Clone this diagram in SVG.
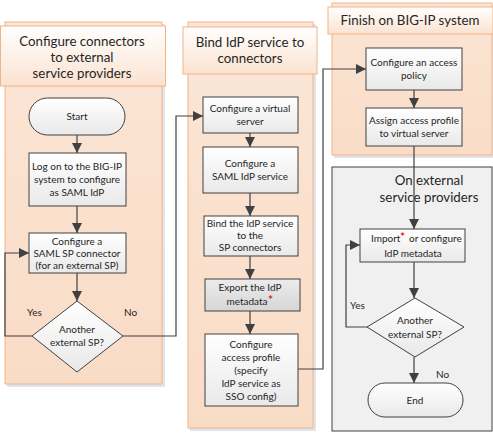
<svg xmlns="http://www.w3.org/2000/svg" width="493" height="434" viewBox="0 0 493 434">
<defs>
<linearGradient id="gBox" x1="0" y1="0" x2="0" y2="1"><stop offset="0" stop-color="#ffffff"/><stop offset="1" stop-color="#e9e9e9"/></linearGradient>
<linearGradient id="gDark" x1="0" y1="0" x2="0" y2="1"><stop offset="0" stop-color="#ececec"/><stop offset="1" stop-color="#d6d6d6"/></linearGradient>
<linearGradient id="gTitle" x1="0" y1="0" x2="0" y2="1"><stop offset="0" stop-color="#ffffff"/><stop offset="1" stop-color="#fbe2cf"/></linearGradient>
<linearGradient id="gPanel" x1="0" y1="0" x2="0" y2="1"><stop offset="0" stop-color="#fbe6d6"/><stop offset="1" stop-color="#f9dcc6"/></linearGradient>
<marker id="arr" viewBox="0 0 10 10" refX="10" refY="5" markerWidth="10" markerHeight="10" markerUnits="userSpaceOnUse" orient="auto"><path d="M0,0 L10,5 L0,10 Z" fill="#404040"/></marker>
</defs>
<style>
.panel{fill:url(#gPanel);stroke:#f0b48a;stroke-width:1}
.shadow{fill:#e1e4e8}
.title{fill:url(#gTitle);stroke:#f0b48a;stroke-width:1}
.box{fill:url(#gBox);stroke:#404040;stroke-width:1}
.dark{fill:url(#gDark);stroke:#404040;stroke-width:1}
.gpanel{fill:#f0f0f0;stroke:#404040;stroke-width:1}
.t{font-family:Lato,"Liberation Sans",sans-serif;font-size:10px;fill:#262626;text-anchor:middle}
.h{font-family:Lato,"Liberation Sans",sans-serif;font-size:13.3px;fill:#262626;text-anchor:middle}
.lbl{font-family:Lato,"Liberation Sans",sans-serif;font-size:10px;fill:#262626}
.star{fill:#e02020}
.c{fill:none;stroke:#404040;stroke-width:1.2}
</style>

<g id="panel-left">
<rect class="shadow" x="7" y="24" width="158" height="363"/>
<rect class="panel" x="5" y="22" width="157" height="362"/>
<rect class="title" x="0.5" y="26" width="165" height="60"/>
<text class="h" x="82" y="46">Configure connectors</text>
<text class="h" x="82" y="62">to external</text>
<text class="h" x="82" y="78">service providers</text>
</g>
<g id="panel-middle">
<rect class="shadow" x="190" y="24" width="126" height="407"/>
<rect class="panel" x="188" y="22" width="125" height="406"/>
<rect class="title" x="183" y="27" width="134" height="47"/>
<text class="h" x="250" y="47">Bind IdP service to</text>
<text class="h" x="250" y="63">connectors</text>
</g>
<g id="panel-right">
<rect class="shadow" x="334" y="5" width="160" height="153"/>
<rect class="panel" x="332" y="3" width="160" height="152"/>
<rect class="title" x="328" y="7" width="165" height="27"/>
<text class="h" x="410" y="25">Finish on BIG-IP system</text>
</g>
<g id="panel-external">
<rect class="gpanel" x="332" y="167" width="160" height="264"/>
<text class="h" x="429" y="185">On external</text>
<text class="h" x="429" y="202">service providers</text>
</g>

<g id="connectors">
<line class="c" x1="77" y1="135" x2="77" y2="153" marker-end="url(#arr)"/>
<line class="c" x1="77" y1="206" x2="77" y2="233" marker-end="url(#arr)"/>
<line class="c" x1="77" y1="273" x2="77" y2="301" marker-end="url(#arr)"/>
<polyline class="c" points="32,336 5,336 5,253 29,253" marker-end="url(#arr)"/>
<polyline class="c" points="123,336 176,336 176,116 203,116" marker-end="url(#arr)"/>
<line class="c" x1="250" y1="133" x2="250" y2="147" marker-end="url(#arr)"/>
<line class="c" x1="250" y1="193" x2="250" y2="216" marker-end="url(#arr)"/>
<line class="c" x1="250" y1="256" x2="250" y2="279" marker-end="url(#arr)"/>
<line class="c" x1="250" y1="311" x2="250" y2="334" marker-end="url(#arr)"/>
<polyline class="c" points="298,369 323,369 323,69 366,69" marker-end="url(#arr)"/>
<line class="c" x1="414" y1="90" x2="414" y2="108" marker-end="url(#arr)"/>
<line class="c" x1="414" y1="146" x2="414" y2="229" marker-end="url(#arr)"/>
<line class="c" x1="414" y1="262" x2="414" y2="298" marker-end="url(#arr)"/>
<polyline class="c" points="367,327 346,327 346,245 360,245" marker-end="url(#arr)"/>
<line class="c" x1="414" y1="357" x2="414" y2="383" marker-end="url(#arr)"/>
<text class="lbl" x="27" y="316">Yes</text>
<text class="lbl" x="124" y="316">No</text>
<text class="lbl" x="350" y="309">Yes</text>
<text class="lbl" x="436" y="378">No</text>
</g>

<g id="start">
<rect class="box" x="29" y="98" width="96" height="37" rx="18.5"/>
<text class="t" x="77" y="120">Start</text>
</g>
<g id="logon">
<rect class="box" x="29" y="153" width="97" height="53"/>
<text class="t" x="77" y="170">Log on to the BIG-IP</text>
<text class="t" x="77" y="183">system to configure</text>
<text class="t" x="77" y="196">as SAML IdP</text>
</g>
<g id="sp-connector">
<rect class="box" x="29" y="233" width="97" height="40"/>
<text class="t" x="77" y="245">Configure a</text>
<text class="t" x="77" y="257">SAML SP connector</text>
<text class="t" x="77" y="269">(for an external SP)</text>
</g>
<g id="decision-left">
<polygon class="box" points="77,301 123,336 77,372 32,336"/>
<text class="t" x="77" y="333">Another</text>
<text class="t" x="77" y="346">external  SP?</text>
</g>

<g id="virtual-server">
<rect class="box" x="203" y="97" width="95" height="36"/>
<text class="t" x="250" y="112">Configure a virtual</text>
<text class="t" x="250" y="125">server</text>
</g>
<g id="idp-service">
<rect class="box" x="203" y="147" width="95" height="46"/>
<text class="t" x="250" y="167">Configure a</text>
<text class="t" x="250" y="180">SAML IdP service</text>
</g>
<g id="bind">
<rect class="box" x="204" y="216" width="94" height="40"/>
<text class="t" x="250" y="227">Bind the IdP service</text>
<text class="t" x="250" y="239">to the</text>
<text class="t" x="250" y="251">SP  connectors</text>
</g>
<g id="export">
<rect class="dark" x="205" y="279" width="95" height="32"/>
<text class="t" x="250" y="291">Export the IdP</text>
<text class="t" x="247" y="305">metadata</text>
<text class="star" x="268" y="304" font-family="Lato,sans-serif" font-size="12" font-weight="bold">*</text>
</g>
<g id="access-profile">
<rect class="box" x="205" y="334" width="93" height="72"/>
<text class="t" x="251" y="348">Configure</text>
<text class="t" x="251" y="361">access profile</text>
<text class="t" x="251" y="374">(specify</text>
<text class="t" x="251" y="387">IdP service as</text>
<text class="t" x="251" y="400">SSO config)</text>
</g>

<g id="access-policy">
<rect class="box" x="366" y="48" width="96" height="42"/>
<text class="t" x="414" y="66">Configure an access</text>
<text class="t" x="414" y="79">policy</text>
</g>
<g id="assign">
<rect class="box" x="366" y="108" width="96" height="38"/>
<text class="t" x="414" y="124">Assign access profile</text>
<text class="t" x="414" y="137">to virtual server</text>
</g>

<g id="import">
<rect class="box" x="360" y="229" width="105" height="33"/>
<text class="lbl" x="371" y="242">Import</text>
<text class="star" x="400" y="241" font-family="Lato,sans-serif" font-size="12" font-weight="bold">*</text>
<text class="lbl" x="409" y="242">or configure</text>
<text class="t" x="413" y="257">IdP metadata</text>
</g>
<g id="decision-right">
<polygon class="box" points="415,298 464,327 415,357 367,327"/>
<text class="t" x="415" y="324">Another</text>
<text class="t" x="415" y="338">external SP?</text>
</g>
<g id="end">
<rect class="box" x="368" y="383" width="95" height="34" rx="17"/>
<text class="t" x="415" y="404">End</text>
</g>
</svg>
